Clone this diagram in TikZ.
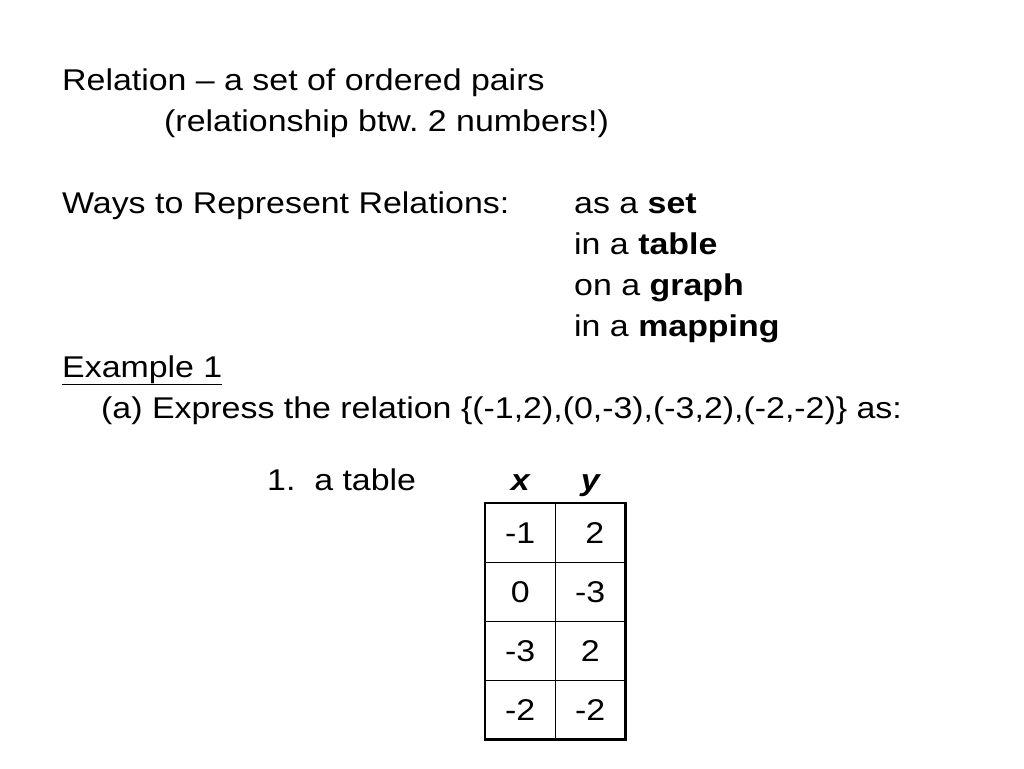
\documentclass[tikz,border=0pt]{standalone}
\usepackage{fontspec}
\setmainfont{Liberation Sans}[FakeStretch=1.13]
\usetikzlibrary{matrix,positioning,fit}
\newcommand{\slidefont}{\fontsize{30}{41}\selectfont}
\frenchspacing
\tikzset{txt/.style={anchor=base west,inner sep=0pt,font=\slidefont},cell/.style={draw,line width=0.9pt,minimum width=69.5pt,minimum height=58.5pt,font=\slidefont}}

\begin{document}
\begin{tikzpicture}[x=1pt,y=-1pt]
          \useasboundingbox (0,0) rectangle (1024,768);

          % heading lines
          \node (rel)  [txt] at (62,90)  {Relation -- a set of ordered pairs};
          \node (rel2) [txt] at (164,131) {(relationship btw. 2 numbers!)};
          \node (ways) [txt] at (62,213) {Ways to Represent Relations:};

          % the four ways
          \node (w1) [txt] at (574,213) {as a \textbf{set}};
          \node (w2) [txt] at (574,254) {in a \textbf{table}};
          \node (w3) [txt] at (574,295) {on a \textbf{graph}};
          \node (w4) [txt] at (574,336) {in a \textbf{mapping}};

          % example
          \node (ex)  [txt] at (62,377) {\underline{Example 1}};
          \node (exa) [txt] at (101,418) {(a) Express the relation \{(-1,2),(0,-3),(-3,2),(-2,-2)\} as:};
          \node (tab) [txt] at (267,490) {1.\ \ a table};

          % the table
          \matrix (T) [matrix of nodes,nodes={cell},column sep=-\pgflinewidth,row sep=-\pgflinewidth,inner sep=0pt,outer sep=0pt,anchor=north west] at (485,503)
          {
            -1 & \ 2 \\
            0 & -3 \\
            -3 & 2 \\
            -2 & -2 \\
          };
          \node (box) [draw,line width=2.6pt,fit=(T),inner sep=0pt] {};

          % column heads
          \coordinate (hd) at (0,490);
          \node (hx) [anchor=base,inner sep=0pt,font=\slidefont\bfseries\itshape] at (T-1-1 |- hd) {x};
          \node (hy) [anchor=base,inner sep=0pt,font=\slidefont\bfseries\itshape] at (T-1-2 |- hd) {y};
        \end{tikzpicture}
\end{document}
